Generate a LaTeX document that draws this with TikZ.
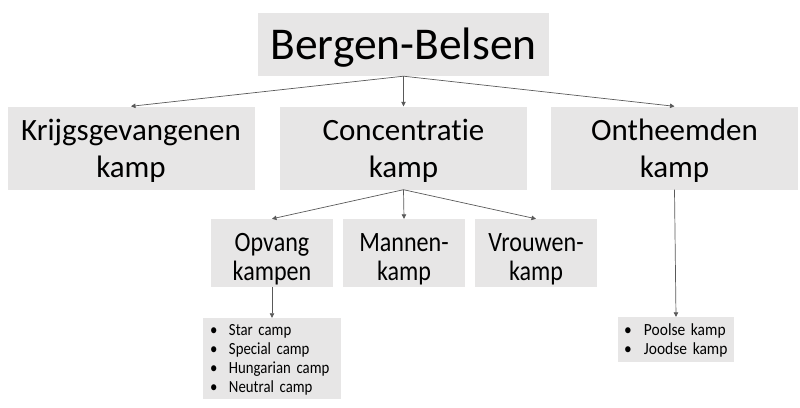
\documentclass[tikz,border=0pt]{standalone}
\usepackage{fontspec}
\setmainfont{Carlito}[Ligatures=NoCommon]
\newfontfamily\narrowfont{Carlito}[FakeStretch=0.86,Ligatures=NoCommon]
\newfontfamily\listfont{Carlito}[FakeStretch=0.87,Ligatures=NoCommon,WordSpace={0.85,0,0}]
\newfontfamily\listfontb{Carlito}[FakeStretch=0.91,Ligatures=NoCommon,WordSpace={0.85,0,0}]
\usetikzlibrary{arrows.meta}
\definecolor{boxgray}{HTML}{E7E6E6}
\definecolor{linegray}{HTML}{595959}
\newcommand{\toprule}[1]{\rule{0pt}{#1}}
\newcommand{\botrule}[1]{\rule[-#1]{0pt}{#1}}
\newcommand{\bitem}[2]{\mbox{\makebox[#1][l]{\textbullet}#2}}
\begin{document}
\begin{tikzpicture}[x=1pt,y=-1pt,
  box/.style={fill=boxgray, inner sep=0pt, align=center, text=black},
  bigbox/.style={box, minimum width=247pt, minimum height=83pt, font=\fontsize{31}{37}\selectfont},
  midbox/.style={box, minimum width=122pt, minimum height=66pt, font=\narrowfont\fontsize{28}{29}\selectfont},
  listbox/.style={box, align=left},
  conn/.style={draw=linegray, line width=0.7pt, -{Triangle[length=4.5pt,width=4.5pt]}}]
\useasboundingbox (0,0) rectangle (800,407);
\node[box, minimum width=291pt, minimum height=63pt, font=\fontsize{45.5}{54}\selectfont] (bb) at (403.5,44.5) {\toprule{38pt}Bergen-Belsen\botrule{9pt}};
\node[bigbox] (kg) at (131,148) {\toprule{27pt}Krijgsgevangenen\\kamp\botrule{6pt}};
\node[bigbox] (cc) at (403.5,148) {\toprule{27pt}Concentratie\\kamp\botrule{6pt}};
\node[bigbox] (on) at (674.5,148) {\toprule{27pt}Ontheemden\\kamp\botrule{6pt}};
\node[midbox] (op) at (272,253) {\toprule{32pt}Opvang\\kampen\botrule{7pt}};
\node[midbox] (mk) at (404,253) {\toprule{32pt}Mannen-\\kamp\botrule{7pt}};
\node[midbox] (vk) at (536,253) {\toprule{32pt}Vrouwen-\\kamp\botrule{7pt}};
\node[listbox, font=\listfont\fontsize{17}{19.3}\selectfont, minimum width=138pt, minimum height=81pt, text width=124pt, inner xsep=7pt] (l1) at (272,358.5)
  {\toprule{15pt}\bitem{19pt}{Star camp}\\
   \bitem{19pt}{Special camp}\\
   \bitem{19pt}{Hungarian camp}\\
   \bitem{19pt}{Neutral camp}\botrule{4pt}};
\node[listbox, font=\listfontb\fontsize{17}{19}\selectfont, minimum width=116pt, minimum height=45pt, text width=104pt, inner xsep=6pt] (l2) at (676,339.5)
  {\toprule{15pt}\bitem{20pt}{Poolse kamp}\\
   \bitem{20pt}{Joodse kamp}\botrule{4pt}};
\draw[conn] (bb.south) -- (kg.north);
\draw[conn] (bb.south) -- (cc.north);
\draw[conn] (bb.south) -- (on.north);
\draw[conn] (cc.south) -- (op.north);
\draw[conn] (cc.south) -- (mk.north);
\draw[conn] (cc.south) -- (vk.north);
\draw[conn] (op.south) -- (l1.north);
\draw[conn] (on.south) -- (l2.north);
\end{tikzpicture}
\end{document}
